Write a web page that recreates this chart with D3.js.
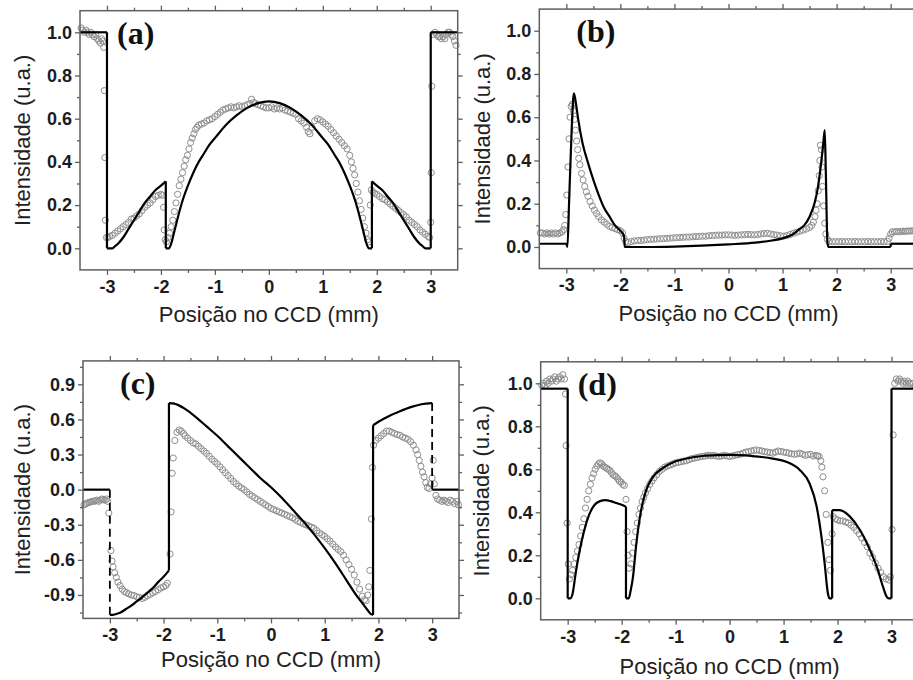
<!DOCTYPE html>
<html>
<head>
<meta charset="utf-8">
<script src="https://cdn.jsdelivr.net/npm/d3@7"></script>
<style>
  body { margin: 0; background: #fff; }
  svg { display: block; }
</style>
</head>
<body>
<svg id="fig" width="913" height="680"></svg>
<script>
// ---- eixo x (posição no CCD, mm) ----
const posTicks = [-3, -2, -1, 0, 1, 2, 3];
const posMinor = [-2.5, -1.5, -0.5, 0.5, 1.5, 2.5];

// ---- eixos y ----
const intTicks = [0, 0.2, 0.4, 0.6, 0.8, 1.0];
const intMinor = [0.1, 0.3, 0.5, 0.7, 0.9];
const intTicksC = [-0.9, -0.6, -0.3, 0, 0.3, 0.6, 0.9];
const intMinorC = [-1.05, -0.75, -0.45, -0.15, 0.15, 0.45, 0.75, 1.05];

// ---- (a) curva teórica e pontos experimentais ----
const teoriaA = [
  [-3.5,1.0],[-3.0,1.0],
  [-3.0,0.0],[-2.9,0.0],[-2.85,0.01],[-2.8,0.02],[-2.7,0.05],[-2.6,0.09],[-2.5,0.13],[-2.4,0.17],
  [-2.3,0.21],[-2.2,0.24],[-2.1,0.27],[-2.0,0.29],[-1.91,0.31],
  [-1.91,0.0],[-1.85,0.0],[-1.8,0.03],[-1.75,0.08],[-1.7,0.13],[-1.6,0.22],[-1.5,0.29],[-1.4,0.35],
  [-1.3,0.40],[-1.2,0.44],[-1.1,0.48],[-1.0,0.51],[-0.8,0.57],[-0.6,0.615],[-0.4,0.65],[-0.2,0.672],
  [0,0.68],[0.2,0.672],[0.4,0.65],[0.6,0.615],[0.8,0.57],[1.0,0.51],[1.1,0.48],[1.2,0.44],[1.3,0.40],
  [1.4,0.35],[1.5,0.29],[1.6,0.22],[1.7,0.13],[1.75,0.08],[1.8,0.03],[1.85,0.0],[1.91,0.0],
  [1.91,0.31],[2.0,0.29],[2.1,0.27],[2.2,0.24],[2.3,0.21],[2.4,0.17],[2.5,0.13],[2.6,0.09],[2.7,0.05],
  [2.8,0.02],[2.85,0.01],[2.9,0.0],[3.0,0.0],
  [3.0,1.0],[3.5,1.0]
];
const expA = [
  [-3.48,1.02],[-3.45,1.01],[-3.42,1.0],[-3.39,1.01],[-3.36,1.0],[-3.33,0.99],[-3.3,1.0],[-3.27,0.99],
  [-3.24,0.98],[-3.21,0.99],[-3.18,0.97],[-3.15,0.96],[-3.12,0.95],[-3.1,0.97],[-3.08,0.96],[-3.06,0.93],
  [-3.05,0.73],[-3.04,0.42],[-3.03,0.13],[-3.01,0.05],
  [-2.98,0.05],[-2.95,0.055],[-2.9,0.06],[-2.85,0.07],[-2.8,0.08],[-2.75,0.09],[-2.7,0.10],[-2.65,0.11],
  [-2.6,0.12],[-2.55,0.135],[-2.5,0.14],[-2.45,0.15],[-2.4,0.16],[-2.35,0.175],[-2.3,0.19],[-2.25,0.2],
  [-2.2,0.21],[-2.15,0.225],[-2.1,0.24],[-2.05,0.245],[-2.0,0.25],[-1.97,0.245],[-1.95,0.19],[-1.94,0.085],
  [-1.92,0.04],
  [-1.9,0.03],[-1.87,0.05],[-1.84,0.07],[-1.81,0.10],[-1.78,0.13],[-1.75,0.17],[-1.72,0.21],[-1.69,0.25],
  [-1.66,0.29],[-1.63,0.32],[-1.6,0.35],[-1.57,0.38],[-1.54,0.41],[-1.51,0.43],[-1.48,0.46],[-1.45,0.49],
  [-1.42,0.51],[-1.39,0.53],[-1.36,0.55],[-1.33,0.56],[-1.3,0.57],[-1.25,0.575],[-1.2,0.58],[-1.15,0.59],
  [-1.1,0.595],[-1.05,0.60],[-1.0,0.61],[-0.95,0.62],[-0.9,0.63],[-0.85,0.64],[-0.8,0.645],[-0.75,0.65],
  [-0.7,0.655],[-0.65,0.65],[-0.6,0.655],[-0.55,0.66],[-0.5,0.655],[-0.45,0.66],[-0.4,0.665],[-0.35,0.67],
  [-0.32,0.69],[-0.28,0.675],[-0.25,0.67],[-0.2,0.665],[-0.15,0.66],[-0.1,0.655],[-0.05,0.65],[0,0.65],
  [0.05,0.655],[0.1,0.645],[0.15,0.65],[0.2,0.645],[0.25,0.65],[0.3,0.64],[0.35,0.635],[0.4,0.63],
  [0.45,0.625],[0.5,0.62],[0.55,0.60],[0.6,0.59],[0.65,0.58],[0.7,0.56],[0.73,0.54],[0.76,0.53],
  [0.8,0.56],[0.85,0.59],[0.9,0.60],[0.95,0.595],[1.0,0.585],[1.05,0.575],[1.1,0.565],[1.15,0.55],
  [1.2,0.535],[1.25,0.52],[1.3,0.505],[1.35,0.49],[1.4,0.475],[1.45,0.46],[1.5,0.43],[1.53,0.40],
  [1.56,0.37],[1.59,0.34],[1.62,0.30],[1.65,0.26],[1.68,0.22],[1.71,0.18],[1.74,0.14],[1.77,0.10],
  [1.8,0.07],[1.83,0.04],[1.85,0.03],
  [1.88,0.2],[1.9,0.27],[1.93,0.26],[1.96,0.255],[2.0,0.25],[2.05,0.24],[2.1,0.23],[2.15,0.225],
  [2.2,0.215],[2.25,0.205],[2.3,0.195],[2.35,0.185],[2.4,0.175],[2.45,0.165],[2.5,0.155],[2.55,0.145],
  [2.6,0.13],[2.65,0.12],[2.7,0.11],[2.75,0.10],[2.8,0.085],[2.85,0.075],[2.9,0.065],[2.95,0.055],
  [2.98,0.05],[3.0,0.12],[3.01,0.35],[3.02,0.75],
  [3.05,0.99],[3.08,1.0],[3.11,0.99],[3.14,0.98],[3.17,0.98],[3.2,0.97],[3.23,0.98],[3.26,0.97],
  [3.29,0.99],[3.32,1.0],[3.35,1.0],[3.38,0.99],[3.41,0.98],[3.44,0.96],[3.47,0.94]
];

// ---- (b) ----
const teoriaB = [
  [-3.5,0.015],[-3.0,0.015],[-2.98,0.0],[-2.95,0.2],[-2.9,0.55],[-2.86,0.71],[-2.82,0.66],[-2.78,0.59],
  [-2.7,0.48],[-2.6,0.39],[-2.5,0.31],[-2.4,0.24],[-2.3,0.18],[-2.2,0.14],[-2.1,0.10],[-2.0,0.075],
  [-1.95,0.06],[-1.93,0.045],[-1.92,0.0],[-1.5,0.0],[-1.0,0.002],[-0.5,0.006],[0,0.012],[0.5,0.02],
  [0.8,0.03],[1.0,0.04],[1.2,0.06],[1.3,0.08],[1.4,0.10],[1.5,0.14],[1.6,0.21],[1.65,0.27],[1.7,0.36],
  [1.75,0.47],[1.78,0.54],[1.8,0.35],[1.83,0.02],[1.85,0.0],[3.0,0.0],
  [3.0,0.015],[3.5,0.015]
];
const expB = [
  [-3.48,0.065],[-3.44,0.065],[-3.4,0.06],[-3.36,0.065],[-3.32,0.06],[-3.28,0.065],[-3.24,0.06],
  [-3.2,0.065],[-3.16,0.06],[-3.12,0.065],[-3.08,0.07],[-3.05,0.08],[-3.03,0.1],[-3.01,0.15],
  [-2.99,0.24],[-2.97,0.37],[-2.95,0.5],[-2.93,0.6],[-2.91,0.65],[-2.89,0.66],[-2.87,0.63],[-2.85,0.59],
  [-2.83,0.54],[-2.81,0.49],[-2.79,0.45],[-2.77,0.41],[-2.75,0.38],[-2.72,0.34],[-2.69,0.31],[-2.66,0.28],
  [-2.63,0.255],[-2.6,0.235],[-2.56,0.21],[-2.52,0.19],[-2.48,0.17],[-2.44,0.155],[-2.4,0.14],[-2.35,0.125],
  [-2.3,0.115],[-2.25,0.105],[-2.2,0.095],[-2.15,0.09],[-2.1,0.085],[-2.05,0.08],[-2.0,0.075],[-1.96,0.065],
  [-1.93,0.04],[-1.9,0.025],
  [-1.86,0.02],[-1.8,0.025],[-1.74,0.028],[-1.68,0.03],[-1.62,0.03],[-1.56,0.032],[-1.5,0.034],[-1.44,0.035],
  [-1.38,0.036],[-1.32,0.037],[-1.26,0.038],[-1.2,0.039],[-1.14,0.04],[-1.08,0.041],[-1.02,0.042],
  [-0.96,0.043],[-0.9,0.044],[-0.84,0.045],[-0.78,0.046],[-0.72,0.046],[-0.66,0.047],[-0.6,0.048],
  [-0.54,0.049],[-0.48,0.05],[-0.42,0.05],[-0.36,0.052],[-0.3,0.053],[-0.24,0.054],[-0.18,0.055],
  [-0.12,0.055],[-0.06,0.056],[0,0.056],[0.06,0.055],[0.12,0.054],[0.18,0.055],[0.24,0.056],[0.3,0.057],
  [0.36,0.058],[0.42,0.057],[0.48,0.056],[0.54,0.058],[0.6,0.06],[0.66,0.062],[0.72,0.063],[0.78,0.06],
  [0.84,0.057],[0.9,0.055],[0.96,0.052],[1.02,0.05],[1.08,0.053],[1.14,0.058],[1.2,0.063],[1.26,0.068],
  [1.32,0.073],[1.38,0.078],[1.44,0.083],[1.5,0.09],[1.54,0.1],[1.57,0.115],[1.6,0.14],[1.62,0.17],
  [1.64,0.2],[1.66,0.26],[1.68,0.33],[1.69,0.4],[1.7,0.47],[1.72,0.45],[1.73,0.37],[1.74,0.28],
  [1.76,0.19],[1.78,0.11],[1.8,0.06],[1.83,0.035],
  [1.86,0.025],[1.92,0.024],[1.98,0.025],[2.04,0.024],[2.1,0.025],[2.16,0.024],[2.22,0.025],[2.28,0.024],
  [2.34,0.025],[2.4,0.024],[2.46,0.025],[2.52,0.024],[2.58,0.025],[2.64,0.024],[2.7,0.025],[2.76,0.024],
  [2.82,0.025],[2.88,0.024],[2.94,0.026],[2.97,0.04],[3.0,0.06],[3.03,0.07],[3.07,0.07],[3.11,0.072],
  [3.15,0.07],[3.19,0.072],[3.23,0.073],[3.27,0.072],[3.31,0.074],[3.35,0.073],[3.39,0.075],[3.43,0.074],
  [3.47,0.075]
];

// ---- (c) ----
const teoriaC = [
  [-3.5,0.0],[-3.0,0.0],
  [-3.0,-1.07],[-2.95,-1.07],[-2.9,-1.065],[-2.8,-1.05],[-2.7,-1.02],[-2.6,-0.99],[-2.5,-0.955],
  [-2.4,-0.92],[-2.3,-0.88],[-2.2,-0.84],[-2.1,-0.79],[-2.0,-0.745],[-1.9,-0.69],
  [-1.9,0.74],[-1.8,0.735],[-1.6,0.69],[-1.4,0.62],[-1.2,0.54],[-1.0,0.46],[-0.8,0.37],[-0.6,0.28],
  [-0.4,0.19],[-0.2,0.10],[0,0.02],[0.2,-0.07],[0.4,-0.17],[0.6,-0.27],[0.8,-0.38],[1.0,-0.50],
  [1.2,-0.63],[1.4,-0.77],[1.6,-0.91],[1.7,-0.97],[1.8,-1.03],[1.85,-1.06],[1.9,-1.07],
  [1.9,0.55],[2.0,0.58],[2.2,0.63],[2.4,0.67],[2.6,0.705],[2.8,0.73],[3.0,0.74],
  [3.0,0.0],[3.5,0.0]
];
const degrausTracejadosC = [-3.0, 3.0];
const expC = [
  [-3.48,-0.13],[-3.45,-0.12],[-3.42,-0.115],[-3.39,-0.11],[-3.36,-0.105],[-3.33,-0.10],[-3.3,-0.10],
  [-3.27,-0.095],[-3.24,-0.09],[-3.21,-0.10],[-3.18,-0.09],[-3.15,-0.08],[-3.12,-0.085],[-3.09,-0.09],
  [-3.06,-0.08],[-3.04,-0.1],
  [-3.02,-0.2],[-2.98,-0.52],[-2.96,-0.61],[-2.94,-0.66],[-2.91,-0.71],[-2.88,-0.75],[-2.85,-0.79],
  [-2.81,-0.82],[-2.77,-0.85],[-2.73,-0.87],[-2.69,-0.88],[-2.65,-0.89],[-2.6,-0.9],[-2.55,-0.905],
  [-2.5,-0.915],[-2.45,-0.92],[-2.4,-0.93],[-2.35,-0.92],[-2.3,-0.905],[-2.25,-0.895],[-2.2,-0.88],
  [-2.15,-0.87],[-2.1,-0.855],[-2.05,-0.84],[-2.0,-0.83],[-1.96,-0.82],[-1.93,-0.8],
  [-1.88,-0.55],[-1.86,-0.19],[-1.84,0.14],[-1.82,0.27],[-1.79,0.42],[-1.75,0.49],[-1.71,0.51],
  [-1.67,0.5],[-1.63,0.48],[-1.6,0.46],[-1.55,0.44],[-1.5,0.42],[-1.45,0.40],[-1.4,0.39],[-1.35,0.37],
  [-1.3,0.35],[-1.25,0.33],[-1.2,0.31],[-1.15,0.285],[-1.1,0.26],[-1.05,0.24],[-1.0,0.22],[-0.95,0.195],
  [-0.9,0.17],[-0.85,0.145],[-0.8,0.12],[-0.75,0.095],[-0.7,0.07],[-0.65,0.05],[-0.6,0.03],[-0.55,0.015],
  [-0.5,0.0],[-0.45,-0.02],[-0.4,-0.04],[-0.35,-0.055],[-0.3,-0.07],[-0.25,-0.085],[-0.2,-0.1],
  [-0.15,-0.115],[-0.1,-0.13],[-0.05,-0.145],[0,-0.16],[0.05,-0.17],[0.1,-0.18],[0.15,-0.19],[0.2,-0.2],
  [0.25,-0.21],[0.3,-0.22],[0.35,-0.23],[0.4,-0.24],[0.45,-0.255],[0.5,-0.27],[0.55,-0.28],[0.6,-0.29],
  [0.65,-0.30],[0.7,-0.31],[0.75,-0.32],[0.8,-0.33],[0.85,-0.35],[0.9,-0.37],[0.95,-0.385],[1.0,-0.40],
  [1.05,-0.42],[1.1,-0.44],[1.15,-0.465],[1.2,-0.49],[1.25,-0.51],[1.3,-0.53],[1.35,-0.56],[1.4,-0.6],
  [1.45,-0.64],[1.5,-0.68],[1.55,-0.73],[1.6,-0.79],[1.65,-0.85],[1.7,-0.91],[1.74,-0.94],[1.77,-0.95],
  [1.8,-0.9],[1.82,-0.83],[1.84,-0.69],
  [1.87,-0.25],[1.89,0.19],[1.91,0.38],[1.95,0.42],[2.0,0.44],[2.05,0.46],[2.1,0.48],[2.15,0.5],
  [2.2,0.5],[2.25,0.49],[2.3,0.48],[2.35,0.47],[2.4,0.465],[2.45,0.45],[2.5,0.44],[2.55,0.43],
  [2.6,0.41],[2.65,0.38],[2.7,0.34],[2.73,0.3],[2.76,0.25],[2.79,0.2],[2.82,0.15],[2.85,0.11],
  [2.88,0.06],[2.91,0.02],[2.94,0.01],[2.97,0.05],[3.0,0.1],[3.02,0.25],[3.04,0.05],[3.07,-0.05],
  [3.1,-0.08],[3.14,-0.09],[3.18,-0.1],[3.22,-0.09],[3.26,-0.1],[3.3,-0.11],[3.34,-0.09],[3.38,-0.1],
  [3.42,-0.12],[3.46,-0.1],[3.49,-0.13]
];

// ---- (d) ----
const teoriaD = [
  [-3.5,0.975],[-3.0,0.975],
  [-3.0,0.0],[-2.95,0.0],[-2.91,0.02],[-2.85,0.12],[-2.78,0.22],[-2.7,0.31],[-2.6,0.39],[-2.5,0.435],
  [-2.4,0.452],[-2.3,0.457],[-2.2,0.452],[-2.1,0.443],[-2.0,0.435],[-1.92,0.426],
  [-1.92,0.0],[-1.87,0.0],[-1.83,0.04],[-1.79,0.10],[-1.73,0.25],[-1.64,0.41],[-1.55,0.50],[-1.42,0.565],
  [-1.24,0.605],[-1.0,0.637],[-0.8,0.65],[-0.5,0.662],[-0.2,0.666],[0,0.667],[0.4,0.662],[0.8,0.65],
  [1.05,0.635],[1.3,0.597],[1.48,0.535],[1.61,0.43],[1.7,0.29],[1.76,0.165],[1.82,0.025],[1.85,0.0],
  [1.9,0.0],
  [1.9,0.41],[2.04,0.41],[2.23,0.38],[2.41,0.32],[2.6,0.225],[2.75,0.13],[2.84,0.055],[2.91,0.008],
  [2.95,0.0],[3.0,0.0],
  [3.0,0.975],[3.5,0.975]
];
const expD = [
  [-3.48,0.99],[-3.45,1.0],[-3.42,0.99],[-3.39,1.01],[-3.36,1.0],[-3.33,1.02],[-3.3,1.01],[-3.27,1.02],
  [-3.24,1.03],[-3.21,1.01],[-3.18,1.02],[-3.15,1.03],[-3.12,1.02],[-3.09,1.04],[-3.06,1.02],[-3.04,0.95],
  [-3.03,0.71],[-3.01,0.35],[-2.99,0.16],[-2.97,0.09],
  [-2.94,0.11],[-2.91,0.13],[-2.88,0.16],[-2.85,0.19],[-2.82,0.22],[-2.79,0.25],[-2.76,0.29],[-2.73,0.33],
  [-2.7,0.37],[-2.67,0.42],[-2.64,0.46],[-2.61,0.5],[-2.58,0.53],[-2.55,0.56],[-2.52,0.58],[-2.49,0.6],
  [-2.46,0.615],[-2.43,0.625],[-2.4,0.63],[-2.37,0.625],[-2.34,0.615],[-2.31,0.61],[-2.28,0.605],
  [-2.25,0.6],[-2.22,0.595],[-2.19,0.585],[-2.16,0.575],[-2.13,0.57],[-2.1,0.565],[-2.07,0.555],
  [-2.04,0.545],[-2.01,0.54],[-1.98,0.53],[-1.95,0.525],[-1.92,0.46],[-1.9,0.31],[-1.88,0.2],[-1.86,0.14],
  [-1.83,0.16],[-1.8,0.21],[-1.77,0.26],[-1.74,0.31],[-1.71,0.35],[-1.68,0.39],[-1.65,0.42],[-1.62,0.45],
  [-1.59,0.47],[-1.56,0.49],[-1.52,0.51],[-1.48,0.53],[-1.44,0.545],[-1.4,0.56],[-1.35,0.575],[-1.3,0.59],
  [-1.25,0.6],[-1.2,0.61],[-1.15,0.615],[-1.1,0.62],[-1.05,0.625],[-1.0,0.63],[-0.95,0.632],[-0.9,0.635],
  [-0.85,0.638],[-0.8,0.64],[-0.75,0.645],[-0.7,0.65],[-0.65,0.652],[-0.6,0.655],[-0.55,0.658],[-0.5,0.66],
  [-0.45,0.662],[-0.4,0.665],[-0.35,0.663],[-0.3,0.665],[-0.25,0.662],[-0.2,0.66],[-0.15,0.662],
  [-0.1,0.665],[-0.05,0.662],[0,0.66],[0.05,0.662],[0.1,0.665],[0.15,0.668],[0.2,0.67],[0.25,0.675],
  [0.3,0.68],[0.35,0.682],[0.4,0.685],[0.45,0.688],[0.5,0.69],[0.55,0.688],[0.6,0.685],[0.65,0.682],
  [0.7,0.68],[0.75,0.678],[0.8,0.675],[0.85,0.68],[0.9,0.685],[0.95,0.683],[1.0,0.68],[1.05,0.678],
  [1.1,0.675],[1.15,0.672],[1.2,0.67],[1.25,0.672],[1.3,0.675],[1.35,0.67],[1.4,0.665],[1.45,0.668],
  [1.5,0.67],[1.55,0.662],[1.6,0.665],[1.63,0.662],[1.66,0.66],[1.69,0.64],[1.71,0.61],[1.73,0.565],
  [1.76,0.5],[1.79,0.39],[1.82,0.26],[1.84,0.18],[1.87,0.13],
  [1.9,0.3],[1.92,0.38],[1.96,0.37],[2.0,0.365],[2.05,0.36],[2.1,0.36],[2.15,0.355],[2.2,0.35],
  [2.25,0.34],[2.3,0.33],[2.35,0.315],[2.4,0.3],[2.45,0.28],[2.5,0.26],[2.55,0.24],[2.6,0.21],
  [2.65,0.19],[2.7,0.165],[2.75,0.14],[2.8,0.12],[2.85,0.1],[2.9,0.09],[2.95,0.085],[2.98,0.1],
  [3.01,0.32],[3.03,0.76],[3.06,1.0],[3.09,1.02],[3.12,1.01],[3.15,1.02],[3.18,1.01],[3.21,1.0],
  [3.24,1.01],[3.27,1.0],[3.3,1.01],[3.33,1.0],[3.36,1.0],[3.4,1.0],[3.44,0.99],[3.48,1.0]
];

// ---- layout of the four panels ----
const panels = [
  { tag: "(a)", teoria: teoriaA, exp: expA, dashed: [], yDomain: [-0.1, 1.1], yMajor: intTicks, yMinor: intMinor,
    x0: 80, x1: 457.7, y0: 269.9, y1: 10.7, ylabX: 22.7, xlabY: 322 },
  { tag: "(b)", teoria: teoriaB, exp: expB, dashed: [], yDomain: [-0.1, 1.1], yMajor: intTicks, yMinor: intMinor,
    x0: 539.3, x1: 917.7, y0: 268.6, y1: 9.1, ylabX: 482, xlabY: 321 },
  { tag: "(c)", teoria: teoriaC, exp: expC, dashed: degrausTracejadosC, yDomain: [-1.1, 1.1], yMajor: intTicksC, yMinor: intMinorC,
    x0: 83, x1: 459, y0: 618.4, y1: 360.9, ylabX: 22.7, xlabY: 667 },
  { tag: "(d)", teoria: teoriaD, exp: expD, dashed: [], yDomain: [-0.1, 1.1], yMajor: intTicks, yMinor: intMinor,
    x0: 540.7, x1: 918.5, y0: 619.8, y1: 361.8, ylabX: 481, xlabY: 674 }
];

const svg = d3.select("#fig");
const SANS = "'Liberation Sans', Arial, Helvetica, sans-serif";
const SERIF = "'Liberation Serif', 'Times New Roman', serif";
const frameColor = "#5f5f5f";

const fmtY = d => d3.format(".1f")(d).replace("\u2212", "-");
const fmtX = d => String(d);

function styleAxis(g, withText) {
  g.select(".domain").remove();
  g.selectAll(".tick line").attr("stroke", frameColor).attr("stroke-width", 1.3);
  if (withText) {
    g.selectAll(".tick text")
      .attr("fill", "#1c1c1c")
      .style("font-family", SANS)
      .style("font-weight", "bold")
      .style("font-size", "18px");
  }
}

// split a stepped curve into runs of strictly increasing x
function splitRuns(pts) {
  const runs = [[pts[0]]];
  for (let i = 1; i < pts.length; i++) {
    const prev = pts[i - 1];
    if (pts[i][0] <= prev[0]) runs.push([pts[i]]);
    else runs[runs.length - 1].push(pts[i]);
  }
  return runs;
}

panels.forEach(p => {
  const x = d3.scaleLinear().domain([-3.5, 3.5]).range([p.x0, p.x1]);
  const y = d3.scaleLinear().domain(p.yDomain).range([p.y0, p.y1]);
  const g = svg.append("g");

  // experimental points
  g.append("g").selectAll("circle").data(p.exp).join("circle")
    .attr("cx", d => x(d[0])).attr("cy", d => y(d[1])).attr("r", 3.1)
    .attr("fill", "none").attr("stroke", "#8e8e8e").attr("stroke-width", 1);

  // theoretical curve
  const line = d3.line().x(d => x(d[0])).y(d => y(d[1])).curve(d3.curveMonotoneX);
  const runs = splitRuns(p.teoria);
  const lg = g.append("g").attr("fill", "none").attr("stroke", "#000").attr("stroke-width", 2.2)
    .attr("stroke-linejoin", "round");
  runs.forEach((r, i) => {
    lg.append("path").attr("d", line(r));
    if (i > 0) {
      const a = runs[i - 1][runs[i - 1].length - 1], b = r[0];
      const dashed = p.dashed.some(v => Math.abs(v - b[0]) < 1e-9);
      lg.append("line")
        .attr("x1", x(a[0])).attr("y1", y(a[1]))
        .attr("x2", x(b[0])).attr("y2", y(b[1]))
        .attr("stroke-dasharray", dashed ? "8,5" : null)
        .attr("stroke-width", dashed ? 1.8 : 2.2);
    }
  });

  // frame
  g.append("rect")
    .attr("x", p.x0).attr("y", p.y1)
    .attr("width", p.x1 - p.x0).attr("height", p.y0 - p.y1)
    .attr("fill", "none").attr("stroke", frameColor).attr("stroke-width", 1.5);

  // bottom axis
  g.append("g").attr("transform", `translate(0,${p.y0})`)
    .call(d3.axisBottom(x).tickValues(posTicks).tickFormat(fmtX).tickSize(5).tickSizeOuter(0).tickPadding(5))
    .call(s => styleAxis(s, true));
  g.append("g").attr("transform", `translate(0,${p.y0})`)
    .call(d3.axisBottom(x).tickValues(posMinor).tickFormat("").tickSize(3).tickSizeOuter(0))
    .call(s => styleAxis(s, false));
  // top axis (mirror ticks)
  g.append("g").attr("transform", `translate(0,${p.y1})`)
    .call(d3.axisTop(x).tickValues(posTicks).tickFormat("").tickSize(5).tickSizeOuter(0))
    .call(s => styleAxis(s, false));
  g.append("g").attr("transform", `translate(0,${p.y1})`)
    .call(d3.axisTop(x).tickValues(posMinor).tickFormat("").tickSize(3).tickSizeOuter(0))
    .call(s => styleAxis(s, false));
  // left axis
  g.append("g").attr("transform", `translate(${p.x0},0)`)
    .call(d3.axisLeft(y).tickValues(p.yMajor).tickFormat(fmtY).tickSize(5).tickSizeOuter(0).tickPadding(3))
    .call(s => styleAxis(s, true));
  g.append("g").attr("transform", `translate(${p.x0},0)`)
    .call(d3.axisLeft(y).tickValues(p.yMinor).tickFormat("").tickSize(3).tickSizeOuter(0))
    .call(s => styleAxis(s, false));
  // right axis (mirror ticks)
  g.append("g").attr("transform", `translate(${p.x1},0)`)
    .call(d3.axisRight(y).tickValues(p.yMajor).tickFormat("").tickSize(5).tickSizeOuter(0))
    .call(s => styleAxis(s, false));
  g.append("g").attr("transform", `translate(${p.x1},0)`)
    .call(d3.axisRight(y).tickValues(p.yMinor).tickFormat("").tickSize(3).tickSizeOuter(0))
    .call(s => styleAxis(s, false));

  // axis titles
  g.append("text")
    .attr("transform", `translate(${p.ylabX},${(p.y0 + p.y1) / 2}) rotate(-90)`)
    .attr("text-anchor", "middle").attr("dominant-baseline", "central")
    .style("font-family", SANS).style("font-size", "22px").attr("fill", "#222")
    .text("Intensidade (u.a.)");
  g.append("text")
    .attr("x", x(0)).attr("y", p.xlabY).attr("text-anchor", "middle")
    .style("font-family", SANS).style("font-size", "22px").attr("fill", "#222")
    .text("Posição no CCD (mm)");

  // panel tag
  g.append("text")
    .attr("x", p.x0 + 37).attr("y", p.y1 + 33)
    .style("font-family", SERIF).style("font-weight", "bold").style("font-size", "32px")
    .attr("fill", "#111")
    .text(p.tag);
});
</script>
</body>
</html>
